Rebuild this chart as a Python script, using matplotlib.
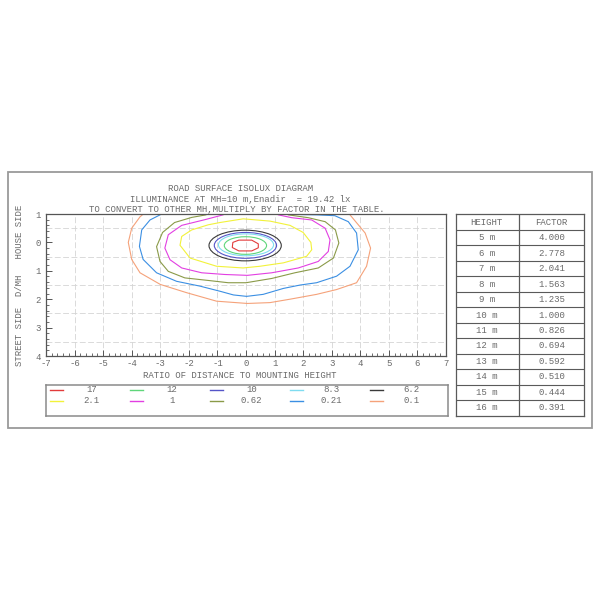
import numpy as np
import matplotlib
matplotlib.use('Agg')
import matplotlib.pyplot as plt
from matplotlib.patches import Rectangle, Ellipse, Polygon
from matplotlib.ticker import MultipleLocator, FuncFormatter

plt.rcParams['font.family'] = ['Liberation Mono', 'DejaVu Sans Mono']
plt.rcParams['axes.unicode_minus'] = False

# legend levels (lx) and colours
levels = ['17', '12', '10', '8.3', '6.2', '2.1', '1', '0.62', '0.21', '0.1']
level_colors = ['#e23b3b', '#5fd67a', '#5555c8', '#7fdcf0', '#3a3a3a',
                '#f2f23a', '#e23fe2', '#8a9a48', '#3b8fe3', '#f5a27a']

# inner contours read as ellipses: centre x, centre y, width, height
ell_levels = ['6.2', '10', '8.3', '12']
ell_cx = [-0.03, -0.02, 0.0, -0.02]
ell_cy = [0.11, 0.105, 0.085, 0.11]
ell_w = [2.53, 2.18, 1.93, 1.48]
ell_h = [1.08, 0.91, 0.77, 0.62]

# 17 lx contour (polygon-like)
c17_x = [-0.46, -0.25, 0.2, 0.43, 0.43, 0.2, -0.25, -0.48]
c17_y = [0.0, -0.08, -0.08, 0.05, 0.19, 0.3, 0.3, 0.18]

# outer contours (x, y in D/MH), clipped by the axes at y=-1
c21_x = [-0.91, -0.1, 0.84, 1.54, 2.0, 2.27, 2.3, 2.12, 1.31, 0.49, -0.1, -1.03, -1.96, -2.31, -2.25, -1.9, -1.32]
c21_y = [-0.7, -0.83, -0.75, -0.6, -0.35, 0.0, 0.26, 0.49, 0.72, 0.84, 0.9, 0.84, 0.55, 0.1, -0.21, -0.44, -0.62]

c1_x = [-0.6, -0.8, -1.44, -2.25, -2.72, -2.84, -2.66, -2.25, -1.55, -0.74, 0.05, 0.9, 1.83, 2.53, 2.88, 2.94, 2.77, 2.3, 1.6, 1.13, 0.8]
c1_y = [-1.2, -0.97, -0.8, -0.6, -0.27, 0.2, 0.61, 0.9, 1.07, 1.13, 1.16, 1.07, 0.9, 0.67, 0.32, -0.09, -0.5, -0.79, -0.87, -0.97, -1.2]

c062_x = [-1.2, -1.4, -1.9, -2.5, -2.92, -3.13, -3.01, -2.72, -2.14, -1.32, -0.62, 0.0, 0.9, 1.71, 2.53, 3.06, 3.25, 3.13, 2.77, 2.18, 1.48, 1.1]
c062_y = [-1.2, -0.97, -0.88, -0.7, -0.35, 0.15, 0.67, 1.02, 1.25, 1.34, 1.42, 1.42, 1.27, 1.07, 0.9, 0.55, 0.02, -0.44, -0.73, -0.87, -0.97, -1.2]

c021_x = [-2.6, -2.95, -3.36, -3.65, -3.73, -3.6, -3.13, -2.43, -1.61, -0.91, -0.44, 0.02, 0.6, 1.31, 1.9, 2.47, 3.17, 3.64, 3.93, 3.87, 3.58, 3.11, 2.5, 1.9, 1.7]
c021_y = [-1.25, -1.0, -0.79, -0.44, 0.14, 0.6, 1.07, 1.37, 1.54, 1.72, 1.85, 1.9, 1.83, 1.62, 1.5, 1.42, 1.19, 0.84, 0.26, -0.33, -0.73, -0.94, -0.97, -0.98, -1.25]

c01_x = [-3.3, -3.71, -4.0, -4.12, -4.0, -3.71, -3.0, -2.08, -1.03, 0.05, 0.84, 1.54, 2.47, 3.17, 3.87, 4.22, 4.36, 4.17, 3.64, 3.4]
c01_y = [-1.25, -0.9, -0.5, 0.0, 0.6, 1.07, 1.48, 1.77, 2.07, 2.15, 2.12, 2.0, 1.83, 1.66, 1.42, 0.84, 0.2, -0.33, -0.97, -1.25]

# mounting height conversion table
heights = ['5 m', '6 m', '7 m', '8 m', '9 m', '10 m', '11 m', '12 m', '13 m', '14 m', '15 m', '16 m']
factors = ['4.000', '2.778', '2.041', '1.563', '1.235', '1.000', '0.826', '0.694', '0.592', '0.510', '0.444', '0.391']

txt = '#6a6a6a'
fs = 6.5
W = 600.0

fig = plt.figure(figsize=(6, 6), dpi=100)

# outer frame
fig.add_artist(Rectangle((7.7 / W, 1 - 428.3 / W), (592 - 7.7) / W, (428.3 - 171.7) / W,
                         transform=fig.transFigure, fill=False, ec='#9a9a9a', lw=1.3))

fig.text(241 / W, 1 - 188.3 / W, 'ROAD SURFACE ISOLUX DIAGRAM', ha='center', va='center', fontsize=fs, color=txt)
fig.text(240 / W, 1 - 199 / W, 'ILLUMINANCE AT MH=10 m,Enadir  = 19.42 lx', ha='center', va='center', fontsize=fs, color=txt)
fig.text(237 / W, 1 - 209.3 / W, 'TO CONVERT TO OTHER MH,MULTIPLY BY FACTOR IN THE TABLE.', ha='center', va='center', fontsize=fs, color=txt)

# main isolux axes
ax = fig.add_axes([46 / W, 1 - 356 / W, 400 / W, 142 / W])
ax.set_xlim(-7, 7)
ax.set_ylim(4, -1)
for x in range(-6, 7):
    ax.axvline(x, color='#d4d4d4', lw=0.6, ls=(0, (7, 3)), zorder=0)
for y in np.arange(-0.5, 4, 1.0):
    ax.axhline(y, color='#d4d4d4', lw=0.6, ls=(0, (7, 3)), zorder=0)

outer = [(c01_x, c01_y, '0.1'), (c021_x, c021_y, '0.21'), (c062_x, c062_y, '0.62'),
         (c1_x, c1_y, '1'), (c21_x, c21_y, '2.1'), (c17_x, c17_y, '17')]
for xs, ys, lev in outer:
    col = level_colors[levels.index(lev)]
    ax.add_patch(Polygon(np.column_stack([xs, ys]), closed=True, fill=False, ec=col, lw=0.8))

for lev, cx, cy, w, h in zip(ell_levels, ell_cx, ell_cy, ell_w, ell_h):
    col = level_colors[levels.index(lev)]
    ax.add_patch(Ellipse((cx, cy), w, h, fill=False, ec=col, lw=0.8))

ax.xaxis.set_major_locator(MultipleLocator(1))
ax.xaxis.set_minor_locator(MultipleLocator(0.2))
ax.yaxis.set_major_locator(MultipleLocator(1))
ax.yaxis.set_minor_locator(MultipleLocator(0.2))
ax.yaxis.set_major_formatter(FuncFormatter(lambda v, p: '%d' % abs(round(v))))
ax.tick_params(which='both', direction='in', colors='#555555', labelcolor=txt, labelsize=fs)
ax.tick_params(which='major', length=4, width=0.7)
ax.tick_params(which='minor', length=2.5, width=0.6)
ax.tick_params(axis='x', pad=2)
ax.tick_params(axis='y', pad=4)
for s in ax.spines.values():
    s.set_color('#555555')
    s.set_linewidth(0.9)

fig.text(240 / W, 1 - 375 / W, 'RATIO OF DISTANCE TO MOUNTING HEIGHT', ha='center', va='center', fontsize=fs, color=txt)
fig.text(20 / W, 1 - 285 / W, 'STREET SIDE  D/MH   HOUSE SIDE', rotation=90, ha='center', va='center', fontsize=fs, color=txt)

# legend box
lg = fig.add_axes([46 / W, 1 - 416 / W, 402 / W, 31 / W])
lg.set_xlim(0, 402)
lg.set_ylim(31, 0)
lg.set_xticks([])
lg.set_yticks([])
for s in lg.spines.values():
    s.set_color('#8a8a8a')
    s.set_linewidth(1.1)
for i, (lev, col) in enumerate(zip(levels, level_colors)):
    r, c = divmod(i, 5)
    yy = 5 + r * 10.7
    x0 = 4 + 80 * c
    lg.plot([x0, x0 + 13.3], [yy, yy], color=col, lw=1)
    lg.text(x0 + 41.7, yy, lev, ha='center', va='center', fontsize=fs, color=txt)

# conversion table
tb = fig.add_axes([456 / W, 1 - 415.7 / W, 128 / W, 201.4 / W])
tb.set_xlim(0, 128)
tb.set_ylim(13, 0)
tb.set_xticks([])
tb.set_yticks([])
for s in tb.spines.values():
    s.set_color('#5a5a5a')
    s.set_linewidth(0.9)
for r in range(1, 13):
    tb.axhline(r, color='#5a5a5a', lw=0.8)
tb.axvline(63.3, color='#5a5a5a', lw=0.9)
tb.text(30.7, 0.5, 'HEIGHT', ha='center', va='center', fontsize=fs, color=txt)
tb.text(95.7, 0.5, 'FACTOR', ha='center', va='center', fontsize=fs, color=txt)
for i, (h, f) in enumerate(zip(heights, factors)):
    tb.text(30.7, i + 1.5, h, ha='center', va='center', fontsize=fs, color=txt)
    tb.text(95.7, i + 1.5, f, ha='center', va='center', fontsize=fs, color=txt)

fig.savefig('out.png', dpi=100, facecolor='white')
